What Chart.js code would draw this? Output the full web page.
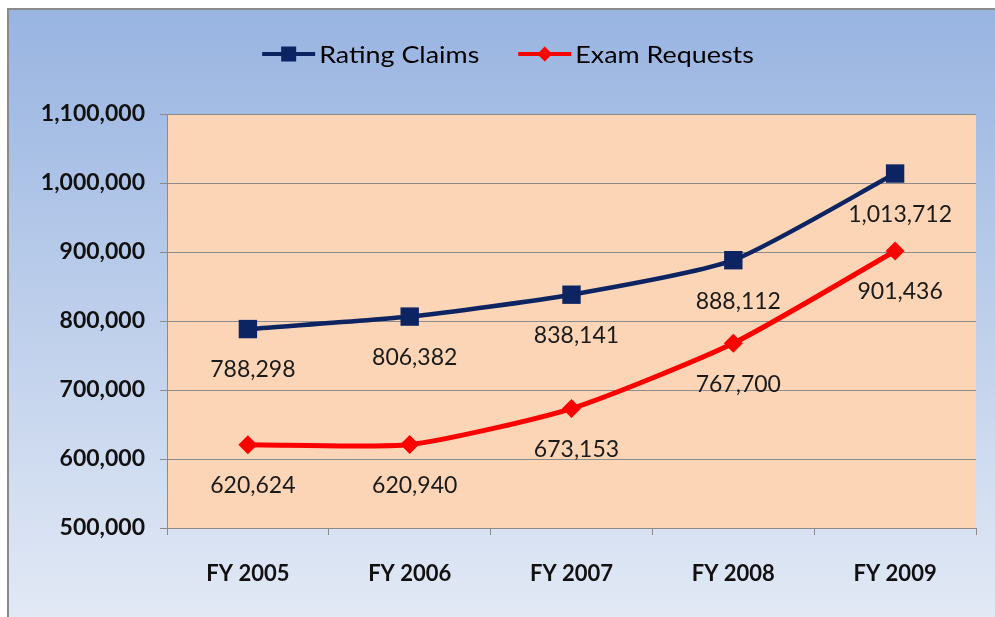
<!DOCTYPE html>
<html><head><meta charset="utf-8">
<script src="https://cdn.jsdelivr.net/npm/chart.js@4"></script>
<style>html,body{margin:0;padding:0;background:#fff;}#wrap{width:995px;height:617px;position:relative}</style>
</head><body><div id="wrap"><canvas id="c" width="995" height="617"></canvas></div>
<script>
const categories = ['FY 2005', 'FY 2006', 'FY 2007', 'FY 2008', 'FY 2009'];
const ratingClaims = [788298, 806382, 838141, 888112, 1013712];
const examRequests = [620624, 620940, 673153, 767700, 901436];
const seriesNames = ['Rating Claims', 'Exam Requests'];
const yMin = 500000, yMax = 1100000, yStep = 100000;

const BLUE = '#0c2462', RED = '#ff0000', GRID = '#8c8c8c';
const FONT = 'Lato, "Open Sans", sans-serif';
const fmt = v => Number(v).toLocaleString('en-US');

const bgPlugin = {
  id: 'bg',
  beforeDraw(chart) {
    const ctx = chart.ctx, W = chart.width, H = chart.height;
    ctx.save();
    ctx.fillStyle = '#ffffff';
    ctx.fillRect(0, 0, W, H);
    const g = ctx.createLinearGradient(0, 9, 0, H);
    g.addColorStop(0, '#98b4e1');
    g.addColorStop(1, '#e2e9f5');
    ctx.fillStyle = g;
    ctx.fillRect(8, 9, W - 8, H - 9);
    ctx.strokeStyle = '#8a8a8a';
    ctx.lineWidth = 2;
    ctx.beginPath();
    ctx.moveTo(8, H); ctx.lineTo(8, 9); ctx.lineTo(W, 9);
    ctx.stroke();
    const a = chart.chartArea;
    ctx.fillStyle = '#fbd5b5';
    ctx.fillRect(a.left, a.top, a.right - a.left, a.bottom - a.top);
    ctx.restore();
  }
};

function drawMarker(ctx, style, x, y, r, color) {
  ctx.fillStyle = color;
  ctx.beginPath();
  if (style === 'rect') {
    ctx.rect(x - r, y - r, 2 * r, 2 * r);
  } else {
    ctx.moveTo(x - r, y); ctx.lineTo(x, y - r); ctx.lineTo(x + r, y); ctx.lineTo(x, y + r); ctx.closePath();
  }
  ctx.fill();
}

const legendPlugin = {
  id: 'customLegend',
  afterDraw(chart) {
    const ctx = chart.ctx;
    ctx.save();
    ctx.font = '24px ' + FONT;
    ctx.textBaseline = 'middle';
    const stretch = 1.12;
    const lineLen = 53, gapText = 4, gapItem = 39;
    const items = chart.data.datasets.map(ds => ({
      label: ds.label, color: ds.borderColor, style: ds.pointStyle,
      tw: ctx.measureText(ds.label).width * stretch
    }));
    items.forEach(it => it.w = lineLen + gapText + it.tw);
    const total = items.reduce((s, it) => s + it.w, 0) + gapItem * (items.length - 1);
    let x = 508 - total / 2;
    const y = 54;
    items.forEach(it => {
      ctx.strokeStyle = it.color;
      ctx.lineWidth = 4;
      ctx.beginPath(); ctx.moveTo(x, y); ctx.lineTo(x + lineLen, y); ctx.stroke();
      drawMarker(ctx, it.style, x + lineLen / 2, y, 7.5, it.color);
      ctx.fillStyle = '#000000';
      ctx.textAlign = 'left';
      ctx.save();
      ctx.translate(x + lineLen + gapText, y + 1);
      ctx.scale(stretch, 1);
      ctx.fillText(it.label, 0, 0);
      ctx.restore();
      x += it.w + gapItem;
    });
    ctx.restore();
  }
};

const labelPlugin = {
  id: 'valueLabels',
  afterDatasetsDraw(chart) {
    const ctx = chart.ctx;
    ctx.save();
    ctx.font = '23px ' + FONT;
    ctx.fillStyle = '#1a1a1a';
    ctx.textAlign = 'center';
    ctx.textBaseline = 'middle';
    chart.data.datasets.forEach((ds, i) => {
      const meta = chart.getDatasetMeta(i);
      meta.data.forEach((pt, j) => {
        ctx.fillText(fmt(ds.data[j]), pt.x + 5, pt.y + 41);
      });
    });
    ctx.restore();
  }
};

new Chart(document.getElementById('c'), {
  type: 'line',
  data: {
    labels: categories,
    datasets: [
      { label: seriesNames[0], data: ratingClaims, borderColor: BLUE, backgroundColor: BLUE,
        borderWidth: 4.5, pointStyle: 'rect', pointRadius: 13, pointBorderWidth: 0,
        pointBackgroundColor: BLUE, tension: 0.2, fill: false },
      { label: seriesNames[1], data: examRequests, borderColor: RED, backgroundColor: RED,
        borderWidth: 5, pointStyle: 'rectRot', pointRadius: 9.5, pointBorderWidth: 0,
        pointBackgroundColor: RED, tension: 0.2, fill: false }
    ]
  },
  options: {
    responsive: false,
    animation: false,
    devicePixelRatio: 1,
    layout: { padding: { top: 114, right: 19, bottom: 0, left: 0 } },
    plugins: { legend: { display: false }, tooltip: { enabled: false } },
    scales: {
      x: {
        offset: true,
        grid: { drawOnChartArea: false, offset: true, color: GRID, tickLength: 7 },
        border: { color: GRID, width: 1 },
        ticks: { font: { family: FONT, size: 22, weight: 'bold' }, color: '#111111', padding: 26, maxRotation: 0 },
        afterFit(s) { s.height = 89; }
      },
      y: {
        min: yMin, max: yMax,
        grid: { color: GRID, tickLength: 7 },
        border: { color: GRID, width: 1 },
        ticks: { stepSize: yStep, font: { family: FONT, size: 23, weight: 'bold' }, color: '#111111', padding: 15,
          callback: v => fmt(v) },
        afterFit(s) { s.width = 167; }
      }
    }
  },
  plugins: [bgPlugin, legendPlugin, labelPlugin]
});
</script></body></html>
